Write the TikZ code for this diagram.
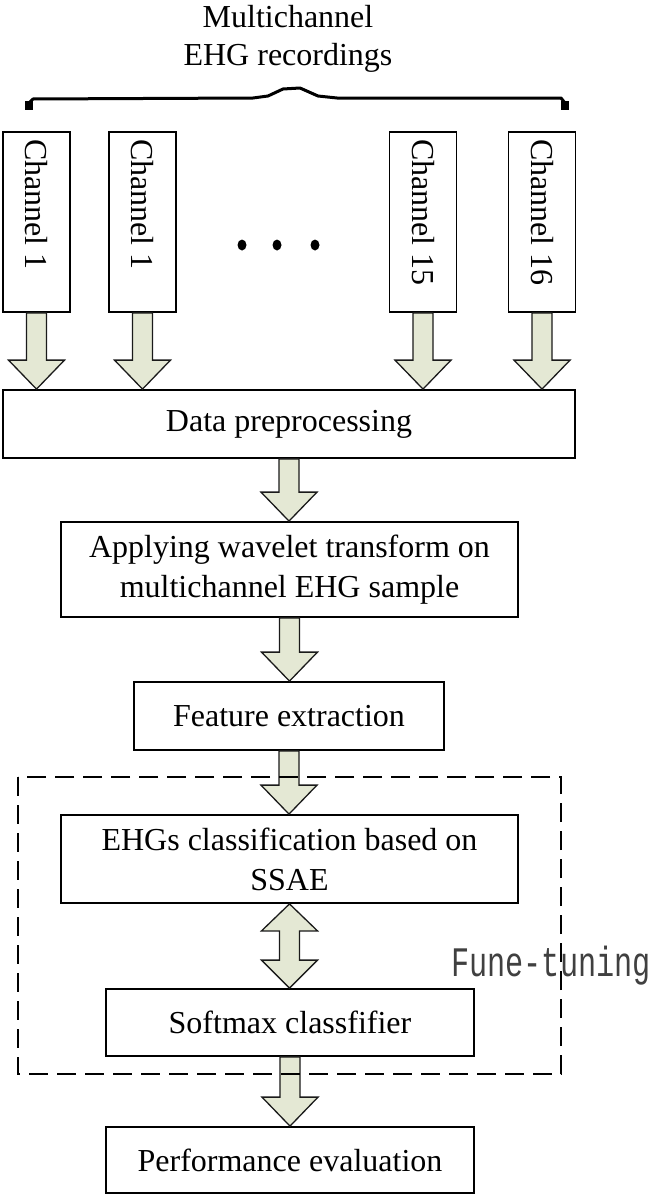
\documentclass[tikz,border=0pt]{standalone}
\usepackage{fontspec}
\setmainfont{Liberation Serif}
\newfontfamily\monofont{Liberation Mono}
\usetikzlibrary{calc}
\definecolor{arrfill}{HTML}{E4E8D4}
\definecolor{arredge}{HTML}{1A1A1A}
\newcommand\downarr[2]{%
  \draw[blockarr] let \p1=(#1.south), \p2=(#2.north) in
   (\x1-10pt,\y1) -- (\x1+10pt,\y1) -- (\x1+10pt,\y2+29pt) -- (\x1+28pt,\y2+29pt)
   -- (\x1,\y2) -- (\x1-28pt,\y2+29pt) -- (\x1-10pt,\y2+29pt) -- cycle;}
\newcommand\dblarr[2]{%
  \draw[blockarr] let \p1=(#1.south), \p2=(#2.north) in
   (\x1,\y1) -- (\x1+28pt,\y1-27pt) -- (\x1+10pt,\y1-27pt) -- (\x1+10pt,\y2+28pt)
   -- (\x1+28pt,\y2+28pt) -- (\x1,\y2) -- (\x1-28pt,\y2+28pt) -- (\x1-10pt,\y2+28pt)
   -- (\x1-10pt,\y1-27pt) -- (\x1-28pt,\y1-27pt) -- cycle;}
\begin{document}
\begin{tikzpicture}[x=1pt,y=-1pt,
  box/.style={draw=black, line width=1.8pt, fill=white, inner sep=0pt, align=center,
    font=\fontsize{32pt}{40pt}\selectfont},
  chbox/.style={box, minimum width=67pt, minimum height=180pt},
  blockarr/.style={draw=arredge, line width=1.3pt, fill=arrfill, line join=miter},
  ttl/.style={align=center, inner sep=0pt, font=\fontsize{32pt}{38pt}\selectfont},
  dots/.style={fill=black, draw=none},
  frame/.style={draw=black, line width=1.8pt, dash pattern=on 19pt off 9pt},
  brace/.style={draw=black, line width=3pt, line join=round}]
\useasboundingbox (0,0) rectangle (656,1199);
\fill[white] (0,0) rectangle (656,1199);

% title and brace
\node[ttl] (title) at (288,39) {Multichannel\\EHG recordings};
\coordinate (bl) at (29,109);
\coordinate (br) at (565,109);
\draw[brace] (bl) -- (29,103) -- (33,99) -- (253,98) -- (268,96) -- (283,89) -- (300,88)
  -- (318,96) -- (337,98) -- (561,98) -- (565,103) -- (br);
\fill (25,101) rectangle (33,110);
\fill (561,101) rectangle (569,110);

% channel boxes
\node[chbox] (c1) at (36.5,222) {\rotatebox{-90}{\makebox[166pt][l]{Channel 1}}};
\node[chbox] (c2) at (142.5,222) {\rotatebox{-90}{\makebox[166pt][l]{Channel 1}}};
\node[chbox] (c15) at (423,222) {\rotatebox{-90}{\makebox[166pt][l]{Channel 15}}};
\node[chbox] (c16) at (542,222) {\rotatebox{-90}{\makebox[166pt][l]{Channel 16}}};

\fill[dots] (242,245) ellipse (4.5 and 5.5);
\fill[dots] (277,245) ellipse (4.5 and 5.5);
\fill[dots] (315,245) ellipse (4.5 and 5.5);

% process boxes
\node[box, minimum width=572pt, minimum height=68pt] (data) at (289,424) {Data preprocessing};
\node[box, minimum width=457pt, minimum height=95pt] (apply) at (289.5,569.5)
  {Applying wavelet transform on\\multichannel EHG sample};
\node[box, minimum width=310pt, minimum height=68pt] (feat) at (289,716) {Feature extraction};
\node[box, minimum width=457pt, minimum height=88pt] (ehgs) at (289.5,859)
  {EHGs classification based on\\SSAE};
\node[box, minimum width=368pt, minimum height=67pt] (soft) at (290,1022.5) {Softmax classfifier};
\node[box, minimum width=368pt, minimum height=66pt] (perf) at (290,1160) {Performance evaluation};

% arrows
\downarr{c1}{data}
\downarr{c2}{data}
\downarr{c15}{data}
\downarr{c16}{data}
\downarr{data}{apply}
\downarr{apply}{feat}
\downarr{feat}{ehgs}
\dblarr{ehgs}{soft}
\downarr{soft}{perf}

% fine-tuning frame
\coordinate (ftl) at (18,777);
\coordinate (fbr) at (561,1074);
\draw[frame] (ftl) rectangle (fbr);
\node[anchor=base west, inner sep=0pt, font=\monofont\fontsize{42pt}{48pt}\selectfont, text=black!75] (fune) at (451,976) {\scalebox{0.72}[1]{Fune-tuning}};
\end{tikzpicture}
\end{document}
